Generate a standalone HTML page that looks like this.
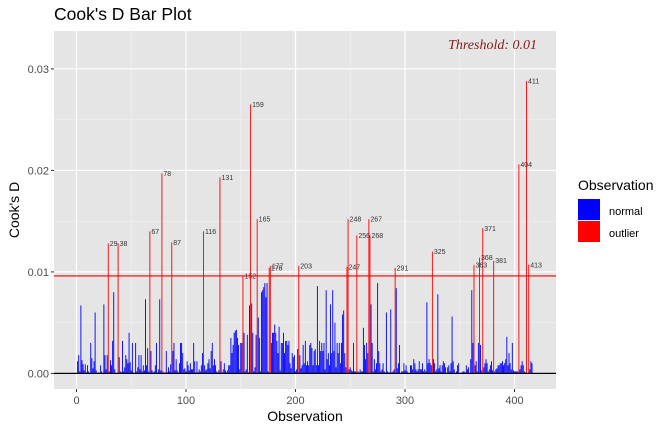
<!DOCTYPE html>
<html><head><meta charset="utf-8"><style>
body{margin:0;background:#fff;width:672px;height:432px;overflow:hidden}
svg{display:block;font-family:"Liberation Sans",sans-serif}
</style></head><body>
<svg id="c" width="672" height="432">
<text x="54" y="20" font-size="17.5" fill="#000">Cook's D Bar Plot</text>
<rect x="54" y="31" width="502" height="358" fill="#e5e5e5"/>
<g id="grid"></g><g id="bars"></g><g id="labels"></g><g id="axes"></g>
<text x="305" y="421" font-size="14" text-anchor="middle" fill="#000">Observation</text>
<text transform="translate(19,210) rotate(-90)" font-size="14" text-anchor="middle" fill="#000">Cook's D</text>
<text x="537" y="49" font-size="14" font-style="italic" text-anchor="end" fill="#8b1a1a" font-family="Liberation Serif,serif">Threshold: 0.01</text>
<g>
<text x="578" y="190" font-size="14">Observation</text>
<rect x="578" y="199" width="22" height="21" fill="#0000ff"/>
<text x="609" y="215" font-size="11">normal</text>
<rect x="578" y="221" width="22" height="21" fill="#ff0000"/>
<text x="609" y="237" font-size="11">outlier</text>
</g>
</svg>
<script>
const cookValues=[12,18,2,67,13,9,3,9,1,8, 2,0,30,15,5,12,60,3,0,1, 0,8,2,0,68,18,4,18,128,2, 13,8,32,80,4,0,0,128,16,2,
1,32,2,6,18,14,10,40,11,3, 30,1,0,30,2,6,18,4,18,2, 8,3,73,8,25,2,140,22,3,1, 2,8,30,1,4,73,3,197,2,0,
1,22,1,6,2,9,129,22,30,3, 14,3,1,10,30,30,20,4,5,2, 12,8,3,10,4,4,30,12,1,12, 1,4,2,8,20,140,8,3,4,10,
14,5,22,30,8,14,8,2,1,3, 193,12,1,4,10,3,1,3,8,8, 35,20,28,40,42,43,35,28,4,30, 30,96,40,2,4,38,1,67,265,69,
40,2,6,38,152,55,35,2,80,82, 85,89,75,89,2,104,106,30,40,40, 48,40,32,20,46,3,30,30,40,20, 32,32,28,32,10,5,20,16,18,2,
4,24,106,18,5,8,28,10,32,8, 12,8,28,30,25,8,22,24,8,86, 8,32,22,30,22,30,4,82,14,20, 8,68,20,82,22,50,6,30,20,30,
10,30,58,62,20,6,105,152,4,6, 3,2,30,2,2,136,2,1,4,2, 2,45,28,14,30,20,152,136,68,30, 2,14,4,10,89,22,10,2,4,10,
2,1,60,2,1,1,63,1,2,4, 104,84,5,10,28,0,2,2,10,3, 8,2,0,0,8,8,4,14,10,4, 2,4,12,4,4,10,2,4,2,70,
10,14,10,8,120,14,10,2,4,78, 5,8,2,8,12,10,6,0,6,8, 2,10,56,12,4,0,2,8,10,0, 0,1,2,2,1,8,4,6,0,14,
82,30,107,8,12,2,30,114,28,3, 143,6,10,14,10,2,4,8,12,3, 111,2,4,5,8,8,10,10,12,8, 10,14,36,8,20,10,4,30,3,2,
2,2,2,206,4,8,12,8,2,1, 288,0,107,4,12,10];
const valueScale=0.0001;
const outlierIds=[29,38,67,78,87,116,131,152,159,165,176,177,203,247,248,256,267,268,291,325,363,368,371,381,404,411,413];
const xTicks=[0,100,200,300,400];
const yTicks=[0,0.01,0.02,0.03];
const yTickLabels=["0.00","0.01","0.02","0.03"];
const threshold=0.0096;

const NS="http://www.w3.org/2000/svg";
const X=v=>76.5+1.095*v;
const Y=v=>373.4-10150*v;
function mk(tag,attrs,parent){const e=document.createElementNS(NS,tag);for(const k in attrs)e.setAttribute(k,attrs[k]);parent.appendChild(e);return e;}
const grid=document.getElementById('grid'),bars=document.getElementById('bars'),labels=document.getElementById('labels'),axes=document.getElementById('axes');
for(let i=0;i<xTicks.length;i++){const m=xTicks[i]+50;if(X(m)<556){const l=mk('line',{x1:X(m),x2:X(m),y1:31,y2:389,stroke:'#f2f2f2','stroke-width':0.6},grid);}}
for(let i=0;i<yTicks.length;i++){const m=yTicks[i]+0.005;if(Y(m)>31){const l=mk('line',{x1:54,x2:556,y1:Y(m),y2:Y(m),stroke:'#f2f2f2','stroke-width':0.6},grid);}}
xTicks.forEach(t=>{const l=mk('line',{x1:X(t),x2:X(t),y1:31,y2:389,stroke:'#fff','stroke-width':1.2},grid);
const tk=mk('line',{x1:X(t),x2:X(t),y1:389,y2:392,stroke:'#333','stroke-width':1},axes);
const tx=mk('text',{x:X(t),y:404,'font-size':11,fill:'#4d4d4d','text-anchor':'middle'},axes);tx.textContent=t;});
yTicks.forEach((t,i)=>{const l=mk('line',{x1:54,x2:556,y1:Y(t),y2:Y(t),stroke:'#fff','stroke-width':1.2},grid);
const tk=mk('line',{x1:51,x2:54,y1:Y(t),y2:Y(t),stroke:'#333','stroke-width':1},axes);
const tx=mk('text',{x:49,y:Y(t)+4,'font-size':11,fill:'#4d4d4d','text-anchor':'end'},axes);tx.textContent=yTickLabels[i];});
cookValues.forEach((raw,i)=>{const obs=i+1,v=raw*valueScale,out=outlierIds.includes(obs);
const r=mk('rect',{x:X(obs)-0.45,y:Y(v),width:0.9,height:Math.max(0,Y(0)-Y(v)),fill:out?'#ff0000':'#0000ff'},bars);


if(out){const t=mk('text',{x:X(obs)+1.5,y:Y(v)+2.5,'font-size':7,fill:'#333'},labels);t.textContent=obs;

}});
const z=mk('line',{x1:54,x2:556,y1:Y(0),y2:Y(0),stroke:'#000','stroke-width':1.2},axes);
const th=mk('line',{x1:54,x2:556,y1:Y(threshold),y2:Y(threshold),stroke:'#ff0000','stroke-width':1.2},axes);
</script>
</body></html>
